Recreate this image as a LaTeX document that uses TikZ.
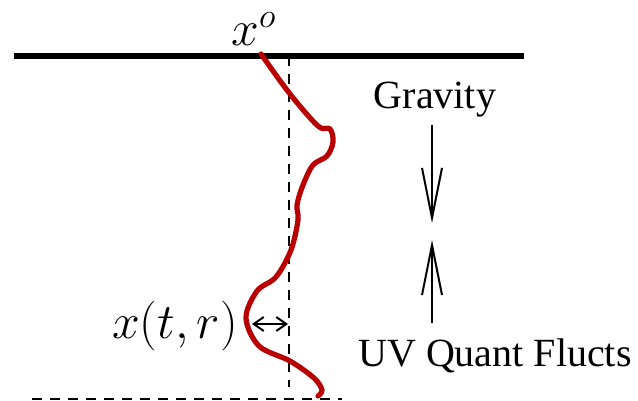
\documentclass[tikz,border=0pt]{standalone}
\usepackage{fontspec}
\setmainfont{Liberation Serif}
\usetikzlibrary{arrows.meta}
\definecolor{curvered}{RGB}{185,0,0}
\begin{document}
\begin{tikzpicture}[x=0.5pt,y=-0.5pt,
  txt/.style={font=\fontsize{20}{24}\selectfont, inner sep=0pt},
  mth/.style={font=\fontsize{23}{27}\selectfont, inner sep=0pt},
  force/.style={line width=1pt, -{Straight Barb[length=25pt,width=10pt,line width=1pt]}},
  dashline/.style={line width=0.75pt, dash pattern=on 5pt off 4pt},
  wiggle/.style={curvered, line width=2.6pt, line cap=round}
]
\useasboundingbox (0,0) rectangle (638,401);
% horizontal boundaries
\coordinate (topL) at (14,56);
\coordinate (topR) at (524,56);
\coordinate (botL) at (32,399);
\coordinate (botR) at (342,399);
\draw[line width=2.6pt] (topL) -- (topR);
\draw[dashline] (botL) -- (botR);
% vertical dashed reference
\coordinate (vT) at (289,56);
\coordinate (vB) at (289,387);
\draw[dashline] (vT) -- (vB);
% labels
\node[mth] (xo) at (254,29) {$x^o$};
\node[mth] (xtr) at (175,326) {$x(t,r)$};
\node[txt] (grav) at (435,100) {Gravity};
\node[txt] (uv) at (495,356) {UV Quant Flucts};
% curve
\draw[wiggle] plot[smooth, tension=0.55] coordinates {
 (261,54) (290,94) (318,126) (330,129) (333,142) (327,156) (313,165)
 (303,185) (297,205) (298,220) (291,250) (276,277) (257,291) (246,318)
 (259,346) (290,361) (314,378) (322,390) (318,396)};
% displacement arrow
\coordinate (dL) at (252,324);
\coordinate (dR) at (288,324);
\draw[line width=1pt, {Straight Barb[length=5pt,width=7pt]}-{Straight Barb[length=5pt,width=7pt]}] (dL) -- (dR);
% force arrows
\coordinate (gS) at (432,125);
\coordinate (gE) at (432,223);
\coordinate (uS) at (432,323);
\coordinate (uE) at (432,240);
\draw[force] (gS) -- (gE);
\draw[force] (uS) -- (uE);
\end{tikzpicture}
\end{document}
